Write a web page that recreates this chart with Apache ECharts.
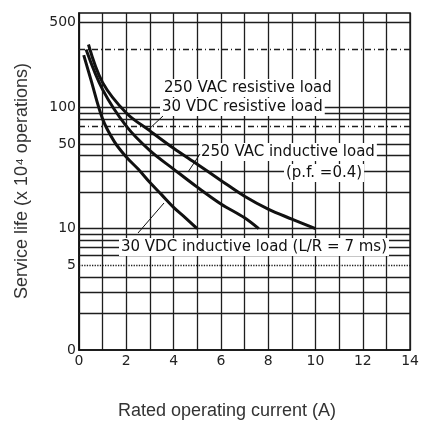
<!DOCTYPE html>
<html><head><meta charset="utf-8">
<script src="https://cdn.jsdelivr.net/npm/echarts@6/dist/echarts.min.js"></script>
<style>html,body{margin:0;padding:0;background:#fff}#c{width:422px;height:423px}</style>
</head><body><div id="c"></div>
<script>
// ---- data ----
const xTickLabels = ['0', '2', '4', '6', '8', '10', '12', '14'];
const yTickValues = [1, 5, 10, 50, 100, 500];
const yTickLabels = ['0', '5', '10', '50', '100', '500'];
const hGridValues = [2, 3, 4, 5, 6, 7, 8, 9, 10, 20, 30, 40, 50, 60, 70, 80, 90, 100, 300, 500];
// 250 VAC / 30 VDC resistive load
const resistive = [[0.4, 330], [1, 160], [2, 90], [3, 64], [4, 46], [5, 34], [6, 25], [7, 18.5], [8, 14.5], [9, 12], [10, 10]];
// 250 VAC inductive load (p.f. = 0.4)
const acInductive = [[0.3, 300], [1, 140], [2, 70], [3, 44], [4, 31], [5, 22], [6, 16], [7, 12.3], [7.6, 10]];
// 30 VDC inductive load (L/R = 7 ms)
const dcInductive = [[0.2, 270], [0.5, 170], [1, 80], [1.5, 52], [2, 39], [2.5, 31], [3, 24], [3.5, 19], [4, 15], [4.5, 12.3], [5, 10]];

const ink = '#111';
const gridInk = '#1e1e1e';
const lineStyleFor = v => v === 5 ? {type: 'dotted'} : (v === 70 || v === 300 ? {type: [6, 3, 1, 3]} : {});

const chart = echarts.init(document.getElementById('c'), null, {renderer: 'canvas'});
const curve = (name, data) => ({
  name, type: 'line', data, symbol: 'none', smooth: 0.35, z: 5,
  lineStyle: {color: ink, width: 3}
});
chart.setOption({
  animation: false,
  backgroundColor: '#fff',
  grid: {left: 79, right: 7, top: 13, bottom: 73, show: true, borderColor: ink, borderWidth: 1.5},
  xAxis: {
    type: 'value', min: 0, max: 14, interval: 1,
    axisLine: {show: true, lineStyle: {color: ink, width: 1.5}},
    axisTick: {show: false},
    splitLine: {show: true, lineStyle: {color: gridInk, width: 1.3}},
    axisLabel: {
      margin: 4, color: '#222', fontFamily: 'DejaVu Sans', fontSize: 14,
      formatter: v => xTickLabels.includes(String(v)) ? String(v) : ''
    }
  },
  yAxis: {
    type: 'log', logBase: 10, min: 1, max: 600,
    axisLine: {show: true, lineStyle: {color: ink, width: 1.5}},
    axisTick: {show: false},
    splitLine: {show: false},
    axisLabel: {
      margin: 3, color: '#222', fontFamily: 'DejaVu Sans', fontSize: 14,
      customValues: yTickValues,
      formatter: v => { const i = yTickValues.indexOf(Math.round(v)); return i >= 0 ? yTickLabels[i] : ''; }
    }
  },
  series: [
    {
      type: 'line', data: [], silent: true, z: 1,
      markLine: {
        z: 1, silent: true, symbol: ['none', 'none'], label: {show: false},
        lineStyle: {color: gridInk, width: 1.3, type: 'solid'},
        data: hGridValues.map(v => ({yAxis: v, lineStyle: lineStyleFor(v)}))
      }
    },
    curve('250 VAC resistive load / 30 VDC resistive load', resistive),
    curve('250 VAC inductive load', acInductive),
    curve('30 VDC inductive load', dcInductive)
  ]
});

// annotations (text labels on white boxes, with leader lines)
const annoFont = '15px "DejaVu Sans"';
const ctx = document.createElement('canvas').getContext('2d');
ctx.font = annoFont;
const txt = (text, x, y) => {
  const w = ctx.measureText(text).width;
  return [
    {type: 'rect', z: 3, x, y, shape: {x: -2, y: -9, width: w + 4, height: 18}, style: {fill: '#fff'}},
    {type: 'text', z: 6, x, y, style: {text, font: annoFont, fill: ink, verticalAlign: 'middle', align: 'left'}}
  ];
};
const lead = (x1, y1, x2, y2) => ({
  type: 'line', z: 6, shape: {x1, y1, x2, y2}, style: {stroke: ink, lineWidth: 1}
});
chart.setOption({
  graphic: [
    ...txt('250 VAC resistive load', 164, 88),
    ...txt('30 VDC resistive load', 162, 107),
    ...txt('250 VAC inductive load', 201, 152),
    ...txt('(p.f. =0.4)', 286, 173),
    ...txt('30 VDC inductive load (L/R = 7 ms)', 121, 247),
    lead(163, 116, 148, 130),
    lead(200, 154, 188, 172),
    lead(164, 203, 138, 233),
    {type: 'text', x: 227, y: 411, style: {text: 'Rated operating current (A)', font: '18px "Liberation Sans"', fill: '#333', align: 'center', verticalAlign: 'middle'}},
    {type: 'text', x: 22, y: 181, rotation: Math.PI / 2, style: {text: 'Service life (x 10⁴ operations)', font: '18px "Liberation Sans"', fill: '#333', align: 'center', verticalAlign: 'middle'}}
  ]
});
</script>
</body></html>
